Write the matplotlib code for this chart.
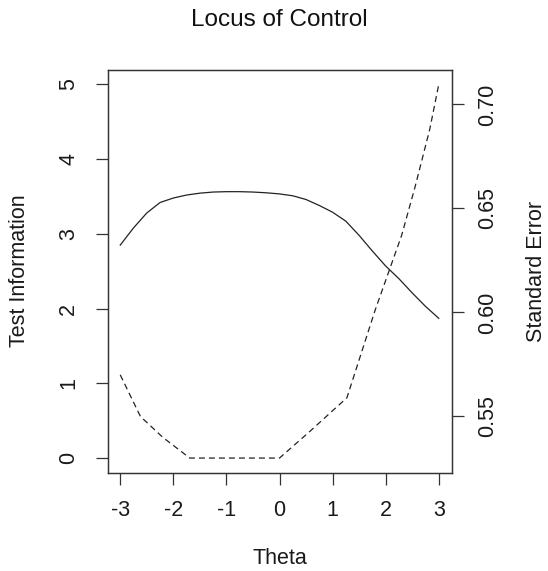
import numpy as np
import matplotlib
matplotlib.use('Agg')
import matplotlib.pyplot as plt

plt.rcParams['font.family'] = ['Liberation Sans', 'DejaVu Sans']

# test information curve
theta_info = [-3, -2.75, -2.5, -2.25, -2, -1.75, -1.5, -1.25, -1, -0.75, -0.5,
              -0.25, 0, 0.25, 0.5, 0.75, 1, 1.25, 1.5, 1.75, 2, 2.25, 2.5, 2.75, 3]
info = [2.85, 3.08, 3.28, 3.42, 3.48, 3.52, 3.545, 3.56, 3.565, 3.565, 3.56,
        3.55, 3.535, 3.51, 3.46, 3.38, 3.29, 3.17, 2.98, 2.77, 2.57, 2.40, 2.21, 2.03, 1.87]

# standard error curve
theta_se = [-3, -2.62, -2.2, -1.69, 0, 0.58, 1.27, 1.8, 2.3, 2.55, 2.83, 3]
se = [0.570, 0.550, 0.540, 0.530, 0.530, 0.543, 0.559, 0.601, 0.637, 0.660, 0.688, 0.7096]

x_ticks = [-3, -2, -1, 0, 1, 2, 3]
left_ticks = [0, 1, 2, 3, 4, 5]
right_ticks = [0.55, 0.60, 0.65, 0.70]

fig = plt.figure(figsize=(5.48, 5.71), dpi=100)
ax = fig.add_axes([107.5/548, 1 - 473/571, 344/548, 403.5/571])

line_col = '#222222'
ax.plot(theta_info, info, color=line_col, lw=0.9)
ax.set_xlim(-3.24, 3.24)
ax.set_ylim(-0.2, 5.2)
ax.set_xticks(x_ticks)
ax.set_xticklabels([str(v) for v in x_ticks])
ax.set_yticks(left_ticks)
ax.set_yticklabels([str(v) for v in left_ticks], rotation=90, va='center')

ax2 = ax.twinx()
ax2.plot(theta_se, se, color=line_col, lw=0.9, ls=(0, (4.8, 3.2)))
lo, hi = 0.53, 0.7096
ext = (hi - lo) * 0.04
ax2.set_ylim(lo - ext, hi + ext)
ax2.set_yticks(right_ticks)
ax2.set_yticklabels(['%.2f' % v for v in right_ticks], rotation=90, va='center')

for a in (ax, ax2):
    for s in a.spines.values():
        s.set_color('#333333')
        s.set_linewidth(0.9)
    a.tick_params(length=8.5, width=0.9, color='#333333', labelsize=15.5, colors='#1a1a1a')

ax.tick_params(axis='x', pad=11)
ax.tick_params(axis='y', pad=12)
ax2.tick_params(axis='y', pad=10)

fig.text(279.5/548, 1 - 20/571, 'Locus of Control', ha='center', va='center', fontsize=17.5, color='#111111')
fig.text(279.5/548, 1 - 558/571, 'Theta', ha='center', va='center', fontsize=15.5, color='#1a1a1a')
fig.text(20/548, 1 - 271/571, 'Test Information', ha='center', va='center', rotation=90, fontsize=15.5, color='#1a1a1a')
fig.text(537/548, 1 - 271/571, 'Standard Error', ha='center', va='center', rotation=90, fontsize=15.5, color='#1a1a1a')

fig.savefig('out.png', dpi=100)
